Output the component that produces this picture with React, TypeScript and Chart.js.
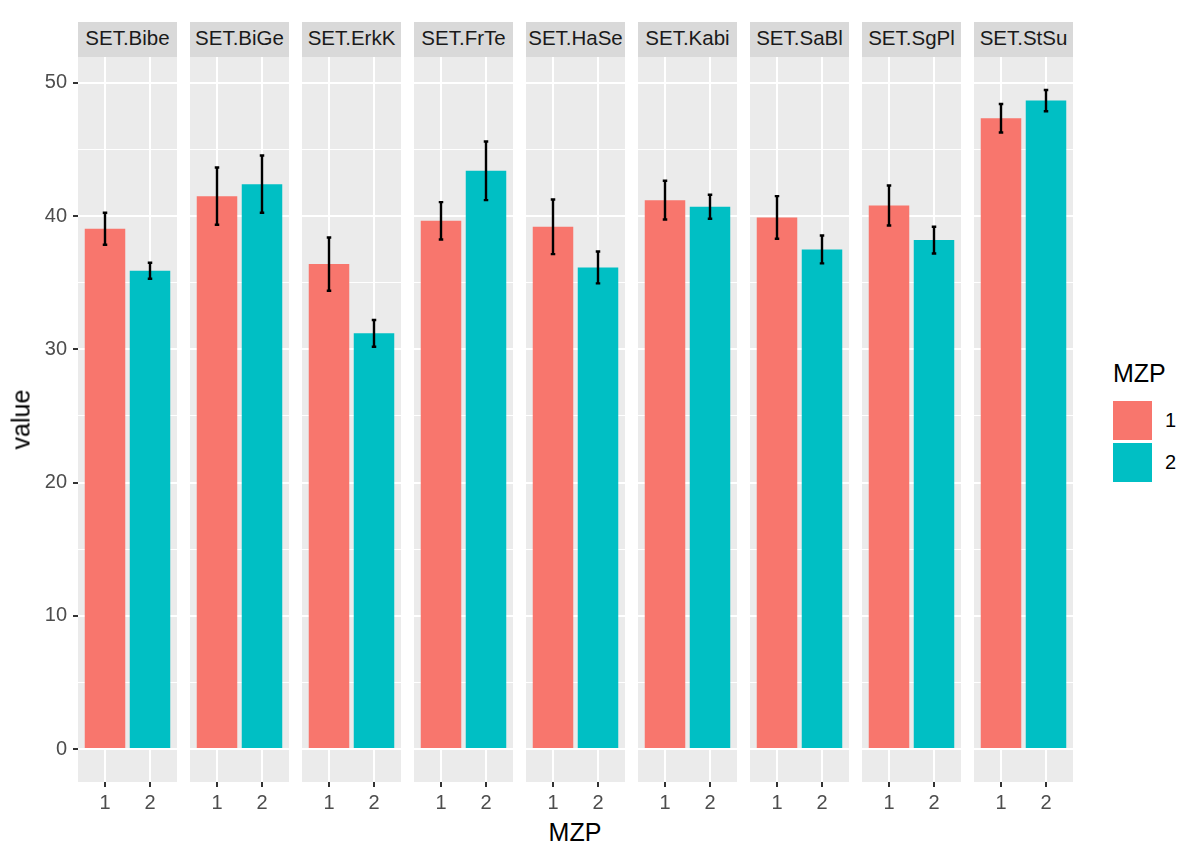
import React, { useEffect, useRef } from "react";
import { Chart, registerables } from "chart.js";

Chart.register(...registerables);

// ---------- data ----------
const panels = [
  "SET.Bibe",
  "SET.BiGe",
  "SET.ErkK",
  "SET.FrTe",
  "SET.HaSe",
  "SET.Kabi",
  "SET.SaBl",
  "SET.SgPl",
  "SET.StSu",
];
const mzpLevels = ["1", "2"];
const meanMzp1 = [39.05, 41.5, 36.4, 39.65, 39.2, 41.2, 39.9, 40.8, 47.35];
const meanMzp2 = [35.9, 42.4, 31.2, 43.4, 36.15, 40.7, 37.5, 38.2, 48.67];
const errMzp1 = [1.2, 2.15, 2.0, 1.4, 2.05, 1.45, 1.6, 1.5, 1.07];
const errMzp2 = [0.6, 2.15, 1.0, 2.2, 1.2, 0.9, 1.05, 1.0, 0.8];
const yTickLabels = [0, 10, 20, 30, 40, 50];
const fillColors = ["#F8766D", "#00BFC4"];

// ---------- layout / style ----------
const FONT = "'Liberation Sans', Arial, Helvetica, sans-serif";
const PANEL_LEFT0 = 78;
const PANEL_STEP = 112;
const PANEL_W = 99;
const PANEL_TOP = 57;
const PANEL_H = 725;
const STRIP_TOP = 22;
const STRIP_H = 35;
const X_AXIS_H = 34;
const ERR_W = 0.1;

const allTops = [
  ...meanMzp1.map((m, i) => m + errMzp1[i]),
  ...meanMzp2.map((m, i) => m + errMzp2[i]),
];
const dataMax = Math.max(...allTops);
const Y_MIN = -0.05 * dataMax;
const Y_MAX = dataMax * 1.05;

export default function App() {
  const refs = useRef<(HTMLCanvasElement | null)[]>([]);

  useEffect(() => {
    const charts = panels.map((_name, i) => {
      const canvas = refs.current[i] as HTMLCanvasElement;
      const isFirst = i === 0;
      const means = [meanMzp1[i], meanMzp2[i]];
      const errs = [errMzp1[i], errMzp2[i]];

      const bgPlugin = {
        id: "panelBg",
        beforeDraw(chart: any) {
          const { ctx, chartArea } = chart;
          ctx.save();
          ctx.fillStyle = "#EBEBEB";
          ctx.fillRect(
            chartArea.left,
            chartArea.top,
            chartArea.right - chartArea.left,
            chartArea.bottom - chartArea.top
          );
          ctx.restore();
        },
      };

      const errPlugin = {
        id: "errBars",
        afterDatasetsDraw(chart: any) {
          const { ctx } = chart;
          const xs = chart.scales.x;
          const ys = chart.scales.y;
          ctx.save();
          ctx.strokeStyle = "#000000";
          ctx.lineWidth = 2.4;
          ctx.lineCap = "butt";
          means.forEach((m, k) => {
            const xc = xs.getPixelForValue(k + 1);
            const half = Math.abs(xs.getPixelForValue(k + 1 + ERR_W / 2) - xc);
            const yt = ys.getPixelForValue(m + errs[k]);
            const yb = ys.getPixelForValue(m - errs[k]);
            ctx.beginPath();
            ctx.moveTo(xc, yt);
            ctx.lineTo(xc, yb);
            ctx.moveTo(xc - half, yt);
            ctx.lineTo(xc + half, yt);
            ctx.moveTo(xc - half, yb);
            ctx.lineTo(xc + half, yb);
            ctx.stroke();
          });
          ctx.restore();
        },
      };

      return new Chart(canvas, {
        type: "bar",
        data: {
          datasets: [
            {
              data: means.map((m, k) => ({ x: k + 1, y: m })),
              backgroundColor: fillColors,
              borderWidth: 0,
              barPercentage: 0.9,
              categoryPercentage: 1,
            },
          ],
        },
        options: {
          animation: false,
          responsive: false,
          maintainAspectRatio: false,
          layout: { padding: 0 },
          plugins: {
            legend: { display: false },
            tooltip: { enabled: false },
          },
          scales: {
            x: {
              type: "linear",
              min: 0.6 - 0.2,
              max: 2.4 + 0.2,
              offset: false,
              border: { display: false },
              grid: {
                offset: false,
                color: "#FFFFFF",
                lineWidth: 2,
                drawTicks: true,
                tickLength: 5,
                tickColor: "#333333",
                tickWidth: 2,
              },
              afterBuildTicks: (s: any) => {
                s.ticks = mzpLevels.map((_l, k) => ({ value: k + 1 }));
              },
              ticks: {
                autoSkip: false,
                maxRotation: 0,
                padding: 4,
                color: "#4D4D4D",
                font: { family: FONT, size: 20 },
                callback: (v: any) => mzpLevels[Number(v) - 1] ?? "",
              },
              afterFit: (s: any) => {
                s.height = X_AXIS_H;
                s.paddingLeft = 0;
                s.paddingRight = 0;
              },
            },
            y: {
              type: "linear",
              min: Y_MIN,
              max: Y_MAX,
              border: { display: false },
              grid: {
                color: "#FFFFFF",
                lineWidth: (c: any) =>
                  c.tick && yTickLabels.includes(c.tick.value) ? 2 : 1,
                drawTicks: isFirst,
                tickLength: 5,
                tickWidth: 2,
                tickColor: (c: any) =>
                  c.tick && yTickLabels.includes(c.tick.value)
                    ? "#333333"
                    : "rgba(0,0,0,0)",
              },
              ticks: {
                display: isFirst,
                stepSize: 5,
                includeBounds: false,
                padding: 6,
                color: "#4D4D4D",
                font: { family: FONT, size: 20 },
                callback: (v: any) =>
                  yTickLabels.includes(Number(v)) ? String(v) : "",
              },
              afterFit: (s: any) => {
                s.width = isFirst ? PANEL_LEFT0 : 0;
                s.paddingTop = 0;
                s.paddingBottom = 0;
              },
            },
          },
        },
        plugins: [bgPlugin, errPlugin],
      } as any);
    });
    return () => charts.forEach((c) => c.destroy());
  }, []);

  const textBase: React.CSSProperties = {
    position: "absolute",
    fontFamily: FONT,
    whiteSpace: "nowrap",
  };

  return (
    <div
      style={{
        position: "absolute",
        left: 0,
        top: 0,
        width: 1180,
        height: 844,
        background: "#FFFFFF",
        overflow: "hidden",
      }}
    >
      {panels.map((name, i) => {
        const left = PANEL_LEFT0 + i * PANEL_STEP;
        const cLeft = i === 0 ? 0 : left;
        const cWidth = i === 0 ? PANEL_LEFT0 + PANEL_W : PANEL_W;
        const cHeight = PANEL_H + X_AXIS_H;
        return (
          <React.Fragment key={name}>
            <div
              style={{
                ...textBase,
                left,
                top: STRIP_TOP,
                width: PANEL_W,
                height: STRIP_H,
                lineHeight: "32px",
                background: "#D9D9D9",
                color: "#1A1A1A",
                fontSize: 20.5,
                textAlign: "center",
              }}
            >
              {name}
            </div>
            <canvas
              ref={(el) => {
                refs.current[i] = el;
              }}
              width={cWidth}
              height={cHeight}
              style={{
                position: "absolute",
                left: cLeft,
                top: PANEL_TOP,
                width: cWidth,
                height: cHeight,
              }}
            />
          </React.Fragment>
        );
      })}

      {/* y axis title */}
      <div
        style={{
          ...textBase,
          left: 21 - 50,
          top: 419 - 12.5,
          width: 100,
          height: 25,
          lineHeight: "25px",
          fontSize: 25,
          color: "#000000",
          textAlign: "center",
          transform: "rotate(-90deg)",
        }}
      >
        value
      </div>

      {/* x axis title */}
      <div
        style={{
          ...textBase,
          left: 575 - 60,
          top: 820,
          width: 120,
          height: 25,
          lineHeight: "25px",
          fontSize: 25,
          color: "#000000",
          textAlign: "center",
        }}
      >
        MZP
      </div>

      {/* legend */}
      <div
        style={{
          ...textBase,
          left: 1113,
          top: 361,
          height: 25,
          lineHeight: "25px",
          fontSize: 25,
          color: "#000000",
        }}
      >
        MZP
      </div>
      {mzpLevels.map((lvl, k) => (
        <React.Fragment key={lvl}>
          <div
            style={{
              position: "absolute",
              left: 1113,
              top: 401 + k * 42,
              width: 39,
              height: 39,
              background: fillColors[k],
            }}
          />
          <div
            style={{
              ...textBase,
              left: 1165,
              top: 410 + k * 42,
              height: 20,
              lineHeight: "20px",
              fontSize: 20,
              color: "#000000",
            }}
          >
            {lvl}
          </div>
        </React.Fragment>
      ))}
    </div>
  );
}
